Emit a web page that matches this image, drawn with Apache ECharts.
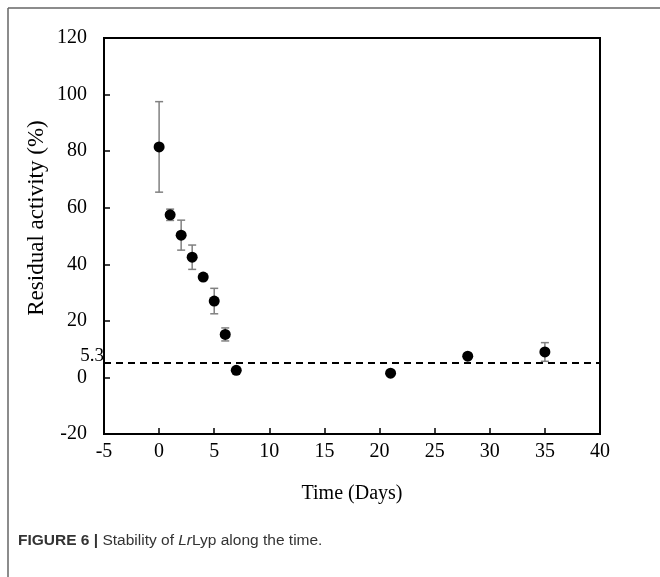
<!DOCTYPE html>
<html><head><meta charset="utf-8">
<script src="https://cdn.jsdelivr.net/npm/echarts@6/dist/echarts.min.js"></script>
<style>html,body{margin:0;padding:0;background:#fff}#c{width:660px;height:577px}</style>
</head><body><div id="c"></div>
<script>
var days = [0, 1, 2, 3, 4, 5, 6, 7, 21, 28, 35];
var activity = [81.5, 57.5, 50.3, 42.5, 35.5, 27, 15.2, 2.5, 1.5, 7.5, 9];
var errors = [16, 2, 5.3, 4.3, 1, 4.5, 2.3, 0, 0, 0.5, 3.3];
var threshold = 5.3;
var xTicks = [-5, 0, 5, 10, 15, 20, 25, 30, 35, 40];
var yTicks = [-20, 0, 20, 40, 60, 80, 100, 120];
var xTitle = 'Time (Days)';
var yTitle = 'Residual activity (%)';

var serif = 'Liberation Serif, Times New Roman, serif';
var pts = days.map(function(d, i){ return [d, activity[i]]; });
var errData = days.map(function(d, i){ return [d, activity[i] - errors[i], activity[i] + errors[i]]; });

var chart = echarts.init(document.getElementById('c'), null, {renderer: 'canvas'});
chart.setOption({
  animation: false,
  backgroundColor: '#fff',
  grid: {left: 104, right: 60, top: 38, bottom: 143, show: true, borderColor: '#000', borderWidth: 2, containLabel: false},
  xAxis: {
    type: 'value', min: xTicks[0], max: xTicks[xTicks.length-1], interval: 5,
    name: xTitle, nameLocation: 'middle', nameGap: 50,
    nameTextStyle: {fontFamily: serif, fontSize: 20, color: '#000'},
    axisLine: {show: true, onZero: false, lineStyle: {color: '#000', width: 2}},
    axisTick: {show: true, inside: true, length: 6, lineStyle: {color: '#000', width: 1.5}},
    axisLabel: {fontFamily: serif, fontSize: 20, color: '#000', margin: 8},
    splitLine: {show: false}
  },
  yAxis: {
    type: 'value', min: yTicks[0], max: yTicks[yTicks.length-1], interval: 20,
    axisLine: {show: true, onZero: false, lineStyle: {color: '#000', width: 2}},
    axisTick: {show: true, inside: true, length: 6, lineStyle: {color: '#000', width: 1.5}},
    axisLabel: {fontFamily: serif, fontSize: 20, color: '#000', margin: 17},
    splitLine: {show: false}
  },
  series: [
    {
      type: 'custom', data: errData, z: 2,
      renderItem: function(params, api){
        var x = api.value(0), lo = api.value(1), hi = api.value(2);
        if (hi - lo < 0.01) return null;
        var pLo = api.coord([x, lo]), pHi = api.coord([x, hi]);
        var w = 4;
        var st = {stroke: '#808080', lineWidth: 1.5};
        return {type: 'group', children: [
          {type: 'line', shape: {x1: pLo[0], y1: pLo[1], x2: pHi[0], y2: pHi[1]}, style: st},
          {type: 'line', shape: {x1: pLo[0]-w, y1: pLo[1], x2: pLo[0]+w, y2: pLo[1]}, style: st},
          {type: 'line', shape: {x1: pHi[0]-w, y1: pHi[1], x2: pHi[0]+w, y2: pHi[1]}, style: st}
        ]};
      }
    },
    {
      type: 'scatter', data: pts, symbol: 'circle', symbolSize: 11, z: 3,
      itemStyle: {color: '#000', opacity: 1},
      markLine: {
        silent: true, symbol: ['none', 'none'],
        lineStyle: {color: '#000', type: [7, 5], width: 1.8},
        label: {show: true, position: 'start', formatter: String(threshold), fontFamily: serif, fontSize: 19, color: '#000', distance: 0, offset: [0, -6]},
        data: [{yAxis: threshold}]
      }
    }
  ],
  graphic: [
    {type: 'line', shape: {x1: 8, y1: 8, x2: 660, y2: 8}, style: {stroke: '#666', lineWidth: 1.5}},
    {type: 'line', shape: {x1: 8, y1: 8, x2: 8, y2: 577}, style: {stroke: '#666', lineWidth: 1.5}},
    {type: 'text', x: 37, y: 218, rotation: Math.PI / 2, style: {
      text: yTitle, fontFamily: serif, fontSize: 23, fill: '#000', align: 'center', verticalAlign: 'middle'
    }},
    {type: 'text', left: 18, top: 533, style: {
      text: '{b|FIGURE 6 | }{n|Stability of }{i|Lr}{n|Lyp along the time.}',
      rich: {
        b: {fontFamily: 'Liberation Sans, Arial, sans-serif', fontWeight: 'bold', fontSize: 15.5, fill: '#333'},
        n: {fontFamily: 'Liberation Sans, Arial, sans-serif', fontSize: 15.5, fill: '#333'},
        i: {fontFamily: 'Liberation Sans, Arial, sans-serif', fontStyle: 'italic', fontSize: 15.5, fill: '#333'}
      }
    }}
  ]
});
</script></body></html>
